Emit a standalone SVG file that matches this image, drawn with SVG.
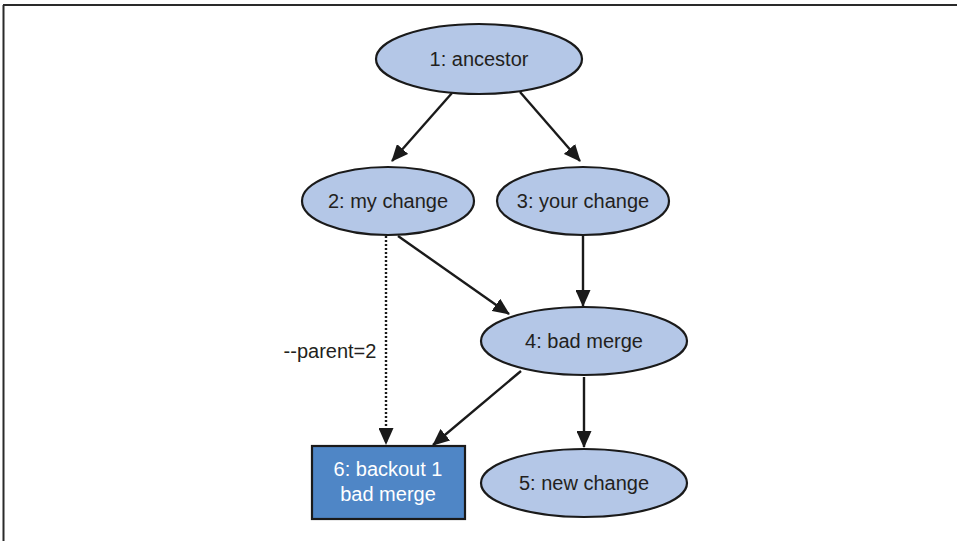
<svg xmlns="http://www.w3.org/2000/svg" width="957" height="541" viewBox="0 0 957 541">
<defs>
<marker id="ah" viewBox="0 0 17 15" refX="16" refY="7.5" markerWidth="17" markerHeight="15" markerUnits="userSpaceOnUse" orient="auto">
<path d="M0,0 L17,7.5 L0,15 z" fill="#1a1a1a"/>
</marker>
<style>
.n{fill:#b4c7e7;stroke:#1a1a1a;stroke-width:2.2}
.t{font-family:"Liberation Sans Narrow","Liberation Sans",Arial,sans-serif;font-size:20px;fill:#231f20;text-anchor:middle}
.e{stroke:#1a1a1a;stroke-width:2.4;fill:none;marker-end:url(#ah)}
</style>
</defs>
<rect width="957" height="541" fill="#fff"/>
<g id="frame" stroke="#2a2a2a" stroke-width="2" fill="none">
<line x1="3" y1="5" x2="957" y2="5"/>
<line x1="3.5" y1="5" x2="3.5" y2="541"/>
</g>
<g id="connectors">
<line class="e" x1="452" y1="93" x2="392" y2="161"/>
<line class="e" x1="520" y1="92" x2="580" y2="161"/>
<line class="e" x1="398" y1="236" x2="509" y2="314"/>
<line class="e" x1="583" y1="236" x2="583" y2="306"/>
<line class="e" x1="386" y1="236" x2="386" y2="444" stroke-dasharray="2,2"/>
<line class="e" x1="521" y1="371" x2="433" y2="445"/>
<line class="e" x1="584" y1="377" x2="584" y2="447"/>
<text class="t" x="330" y="358">--parent=2</text>
</g>
<g id="n1"><ellipse class="n" cx="479" cy="59" rx="103" ry="35"/><text class="t" x="479" y="66">1: ancestor</text></g>
<g id="n2"><ellipse class="n" cx="388" cy="201" rx="86" ry="34"/><text class="t" x="388" y="208">2: my change</text></g>
<g id="n3"><ellipse class="n" cx="583" cy="201" rx="86" ry="34"/><text class="t" x="583" y="208">3: your change</text></g>
<g id="n4"><ellipse class="n" cx="584" cy="341" rx="103" ry="34"/><text class="t" x="584" y="348">4: bad merge</text></g>
<g id="n5"><ellipse class="n" cx="584" cy="483" rx="103" ry="34"/><text class="t" x="584" y="490">5: new change</text></g>
<g id="n6"><rect x="312" y="446" width="153" height="73" fill="#4f86c6" stroke="#1a1a1a" stroke-width="2.2"/><text class="t" x="388" y="476" style="fill:#fff">6: backout 1</text><text class="t" x="388" y="501" style="fill:#fff">bad merge</text></g>
</svg>
